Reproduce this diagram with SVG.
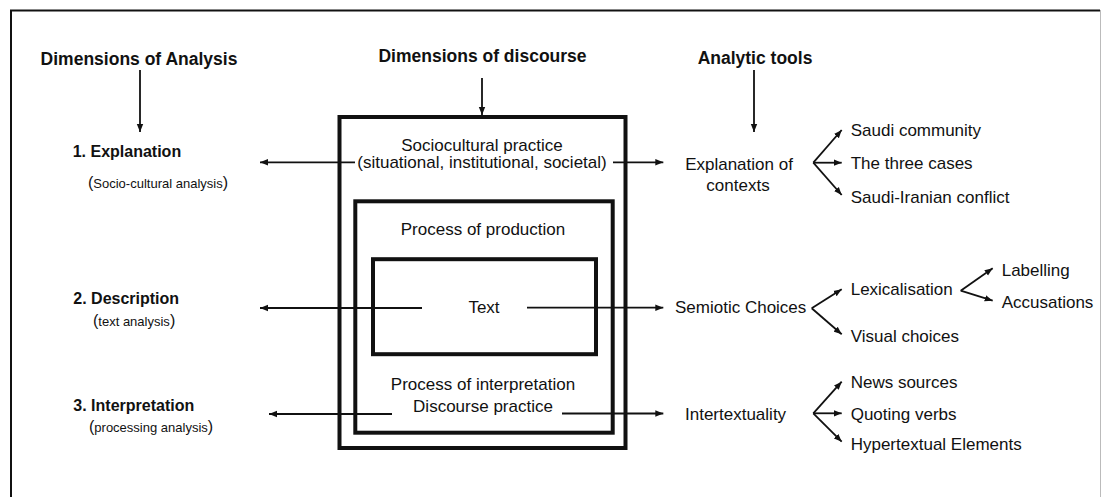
<svg xmlns="http://www.w3.org/2000/svg" width="1101" height="497" viewBox="0 0 1101 497">
  <style>
    text { font-family: "Liberation Sans", Arial, sans-serif; fill: #111; }
    .title { font-size: 17.5px; font-weight: bold; }
    .dim { font-size: 16px; font-weight: bold; }
    .sub { font-size: 13px; }
    .par { font-size: 16px; }
    .lbl { font-size: 17px; }
    .mid { text-anchor: middle; }
    .box { fill: none; stroke: #111; stroke-width: 4; }
    .conn line { stroke: #111; stroke-width: 1.8; marker-end: url(#head); }
  </style>
  <defs>
    <marker id="head" markerUnits="userSpaceOnUse" markerWidth="9" markerHeight="8" refX="8" refY="4" orient="auto">
      <path d="M0,0.8 L8,4 L0,7.2 Z" fill="#111"/>
    </marker>
  </defs>

  <rect width="1101" height="497" fill="#fff"/>

  <!-- page frame -->
  <path d="M1100,10.5 H11 V497" fill="none" stroke="#111" stroke-width="2"/>
  <line x1="1100.5" y1="10" x2="1100.5" y2="497" stroke="#bbb" stroke-width="1"/>

  <!-- column headings -->
  <g id="heading-analysis"><text class="title mid" x="139" y="65">Dimensions of Analysis</text></g>
  <g id="heading-discourse"><text class="title mid" x="482.5" y="62">Dimensions of discourse</text></g>
  <g id="heading-tools"><text class="title mid" x="755" y="64">Analytic tools</text></g>

  <!-- dimensions of analysis -->
  <g id="explanation">
    <text class="dim" x="72.7" y="157">1. Explanation</text>
    <text class="sub" x="88" y="188"><tspan class="par">(</tspan>Socio-cultural analysis<tspan class="par">)</tspan></text>
  </g>
  <g id="description">
    <text class="dim" x="73.3" y="304">2. Description</text>
    <text class="sub" x="93" y="326"><tspan class="par">(</tspan>text analysis<tspan class="par">)</tspan></text>
  </g>
  <g id="interpretation">
    <text class="dim" x="73.3" y="411">3. Interpretation</text>
    <text class="sub" x="89" y="431.7"><tspan class="par">(</tspan>processing analysis<tspan class="par">)</tspan></text>
  </g>

  <!-- nested discourse boxes -->
  <g id="sociocultural-practice">
    <rect class="box" x="339.5" y="117" width="286" height="331"/>
    <text class="lbl mid" x="482" y="150.5">Sociocultural practice</text>
    <text class="lbl mid" x="482" y="168">(situational, institutional, societal)</text>
  </g>
  <g id="discourse-practice">
    <rect class="box" x="355.3" y="201.3" width="257.4" height="231.4"/>
    <text class="lbl mid" x="483" y="235">Process of production</text>
    <text class="lbl mid" x="483" y="390">Process of interpretation</text>
    <text class="lbl mid" x="483" y="411.7">Discourse practice</text>
  </g>
  <g id="text-box">
    <rect class="box" x="373" y="259.2" width="223" height="95" stroke-width="3.6"/>
    <text class="lbl mid" x="484" y="313.3">Text</text>
  </g>

  <!-- analytic tools -->
  <g id="explanation-of-contexts">
    <text class="lbl mid" x="739" y="170">Explanation of</text>
    <text class="lbl mid" x="738" y="190.7">contexts</text>
  </g>
  <g id="saudi-community"><text class="lbl" x="850.7" y="136">Saudi community</text></g>
  <g id="three-cases"><text class="lbl" x="850.7" y="169">The three cases</text></g>
  <g id="saudi-iranian-conflict"><text class="lbl" x="850.7" y="202.7">Saudi-Iranian conflict</text></g>

  <g id="semiotic-choices"><text class="lbl" x="675" y="312.7">Semiotic Choices</text></g>
  <g id="lexicalisation"><text class="lbl" x="850.7" y="295">Lexicalisation</text></g>
  <g id="visual-choices"><text class="lbl" x="850.7" y="341.7">Visual choices</text></g>
  <g id="labelling"><text class="lbl" x="1001.7" y="276">Labelling</text></g>
  <g id="accusations"><text class="lbl" x="1001.7" y="308.3">Accusations</text></g>

  <g id="intertextuality"><text class="lbl" x="685" y="420">Intertextuality</text></g>
  <g id="news-sources"><text class="lbl" x="850.7" y="388.3">News sources</text></g>
  <g id="quoting-verbs"><text class="lbl" x="850.7" y="420">Quoting verbs</text></g>
  <g id="hypertextual-elements"><text class="lbl" x="850.7" y="450">Hypertextual Elements</text></g>

  <!-- connectors -->
  <g id="connectors" class="conn">
    <line x1="140" y1="70" x2="140" y2="132"/>
    <line x1="482" y1="78" x2="482" y2="115"/>
    <line x1="754" y1="70" x2="754" y2="132"/>

    <line x1="355" y1="162.3" x2="260" y2="162.3"/>
    <line x1="613" y1="162.3" x2="663.3" y2="162.3"/>
    <line x1="422" y1="308" x2="260" y2="308"/>
    <line x1="527" y1="307.7" x2="663.3" y2="307.7"/>
    <line x1="392" y1="414" x2="269" y2="414"/>
    <line x1="562" y1="413.5" x2="663.3" y2="413.5"/>

    <line x1="813.3" y1="162.7" x2="841.7" y2="130"/>
    <line x1="813.3" y1="162.7" x2="841.7" y2="162.7"/>
    <line x1="813.3" y1="162.7" x2="841.7" y2="195"/>

    <line x1="811.7" y1="308.3" x2="841.7" y2="289.3"/>
    <line x1="811.7" y1="308.3" x2="841.7" y2="334.3"/>

    <line x1="960.7" y1="290.7" x2="992.7" y2="268.3"/>
    <line x1="960.7" y1="290.7" x2="992.7" y2="300.7"/>

    <line x1="813.3" y1="413.3" x2="841.7" y2="381.7"/>
    <line x1="813.3" y1="413.3" x2="841.7" y2="413.3"/>
    <line x1="813.3" y1="413.3" x2="841.7" y2="441.7"/>
  </g>
</svg>
